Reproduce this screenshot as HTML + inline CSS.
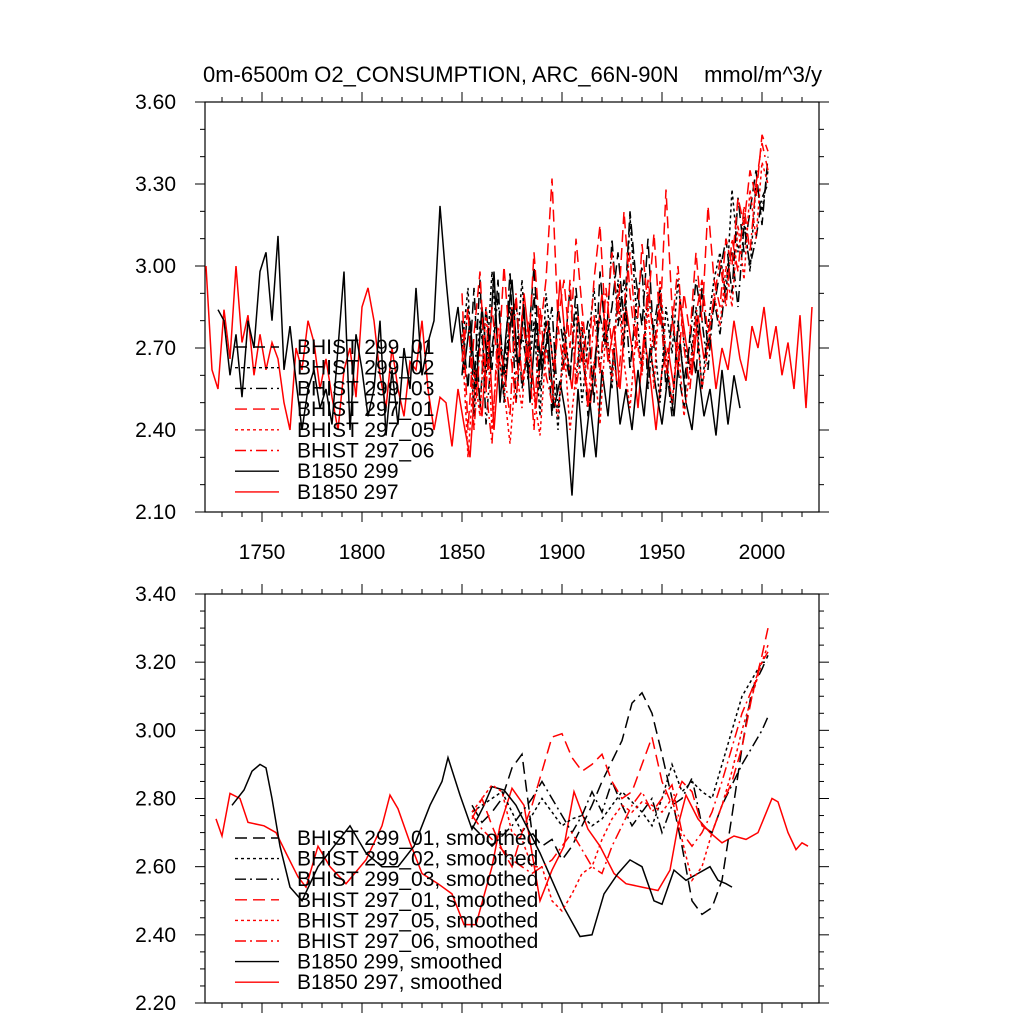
<!DOCTYPE html>
<html><head><meta charset="utf-8"><style>
body{margin:0;background:#fff}
svg text{font-family:"Liberation Sans",sans-serif;fill:#000}
</style></head><body>
<svg id="chart" width="1024" height="1024" viewBox="0 0 1024 1024" xmlns="http://www.w3.org/2000/svg">
<text x="203" y="82" font-size="22">0m-6500m O2_CONSUMPTION, ARC_66N-90N</text>
<text x="822" y="82" font-size="22" text-anchor="end">mmol/m^3/y</text>
<g id="topPanel"></g>
<g id="botPanel"></g>
</svg>
<script>
// ---- data ----
const xTickYears = [1750,1800,1850,1900,1950,2000];
const topYTicks = [2.10,2.40,2.70,3.00,3.30,3.60];
const botYTicks = [2.20,2.40,2.60,2.80,3.00,3.20,3.40];

const b297Start = 1722, b297Step = 3;
const b297 = [3.00,2.62,2.55,2.84,2.66,3.00,2.72,2.82,2.60,2.75,2.62,2.72,2.66,2.50,2.40,2.70,2.62,2.80,2.72,2.55,2.66,2.52,2.40,2.62,2.70,2.52,2.85,2.92,2.80,2.60,2.48,2.70,2.55,2.45,2.65,2.62,2.80,2.55,2.40,2.52,2.50,2.34,2.55,2.42,2.30,2.62,2.45,2.78,2.40,2.70,2.58,2.85,2.62,2.90,2.70,2.48,2.72,2.80,2.62,2.95,2.70,2.55,2.82,2.62,2.48,2.70,2.90,2.65,2.78,2.55,2.85,2.70,2.48,2.75,2.60,2.40,2.62,2.70,2.55,2.88,2.72,2.60,2.82,2.66,2.75,2.55,2.70,2.62,2.80,2.66,2.58,2.78,2.70,2.85,2.66,2.78,2.60,2.72,2.55,2.82,2.48,2.85];
const b299Start = 1728, b299Step = 3;
const b299 = [2.84,2.80,2.60,2.75,2.52,2.80,2.70,2.98,3.05,2.80,3.11,2.62,2.78,2.58,2.40,2.55,2.62,2.48,2.55,2.42,2.70,2.98,2.40,2.75,2.62,2.45,2.55,2.80,2.38,2.62,2.42,2.70,2.55,2.92,2.60,2.72,2.80,3.22,2.95,2.72,2.85,2.62,2.80,2.55,2.85,2.62,2.98,2.50,2.75,2.95,2.62,2.85,2.50,2.80,2.62,2.75,2.48,2.58,2.45,2.16,2.55,2.30,2.50,2.30,2.62,2.45,2.70,2.42,2.55,2.40,2.62,2.45,2.70,2.55,2.42,2.60,2.45,2.72,2.50,2.40,2.62,2.45,2.55,2.38,2.62,2.42,2.60,2.48];
const histStart = 1850, histStep = 3;
const h299_01 = [2.80,2.55,2.92,2.48,2.85,2.62,2.95,2.50,2.78,2.88,2.55,2.70,3.00,2.62,2.80,2.45,2.85,2.70,2.58,2.92,2.65,2.80,2.50,2.98,2.72,2.85,3.05,2.80,3.20,2.95,2.78,3.10,2.70,2.90,2.55,2.82,2.62,2.48,2.75,2.60,2.92,2.70,2.85,2.98,3.10,2.90,3.25,3.05,3.20,3.35,3.15,3.40];
const h299_02 = [2.70,2.92,2.45,2.80,2.60,2.98,2.70,2.52,2.85,2.65,2.95,2.58,2.80,2.45,2.90,2.68,2.40,2.78,2.60,2.85,2.50,2.72,2.92,2.62,2.80,2.55,2.95,2.70,3.18,2.85,2.62,2.90,2.75,2.50,2.85,2.68,2.95,2.72,2.62,2.85,2.55,2.78,2.95,3.05,2.88,3.28,3.05,3.18,2.98,3.30,3.20,3.35];
const h299_03 = [2.60,2.85,2.55,2.95,2.42,2.70,2.88,2.60,2.98,2.50,2.75,2.62,2.90,2.55,2.72,2.85,2.48,2.66,2.92,2.58,2.78,2.45,2.62,2.82,2.70,3.10,2.78,2.95,2.62,2.85,3.00,2.55,2.78,2.92,2.65,2.45,2.80,2.58,2.72,2.95,2.80,2.62,2.88,2.75,2.95,3.05,2.85,3.15,3.00,3.10,3.25,3.30];
const h297_01 = [2.90,2.40,2.75,2.98,2.55,2.85,2.62,3.00,2.70,2.50,2.82,2.65,3.05,2.75,2.95,3.32,2.80,2.95,2.70,3.10,2.85,2.62,2.95,3.15,2.75,3.05,2.82,3.20,2.90,2.70,3.08,2.85,3.12,2.78,3.28,2.85,2.62,2.90,2.75,3.05,2.80,3.22,2.95,2.85,3.10,3.00,3.25,3.15,3.35,3.25,3.48,3.42];
const h297_05 = [2.75,2.30,2.62,2.45,2.85,2.40,2.70,2.55,2.35,2.62,2.48,2.80,2.52,2.38,2.70,2.55,2.45,2.72,2.40,2.60,2.80,2.50,2.65,2.42,2.78,2.58,2.90,2.65,2.48,2.75,2.60,2.85,2.55,2.95,2.68,2.50,2.72,2.45,2.62,2.80,2.55,2.70,2.90,2.78,3.00,2.85,3.15,2.95,3.28,3.10,3.38,3.30];
const h297_06 = [2.65,2.85,2.40,2.70,2.55,2.35,2.78,2.62,2.45,2.90,2.58,2.72,2.40,2.85,2.60,2.50,2.78,2.62,2.95,2.55,2.70,2.48,2.82,2.60,2.92,2.70,2.55,2.85,3.05,2.75,2.62,2.95,2.70,2.85,2.60,2.78,3.00,2.70,2.55,2.82,2.95,2.75,2.88,3.02,2.85,3.10,2.98,3.22,3.05,3.30,3.45,3.35];

// smoothed (bottom)
const s297Years = [1727,1730,1734,1739,1743,1751,1757,1762,1768,1772,1778,1784,1792,1802,1810,1814,1818,1824,1830,1838,1845,1851,1857,1865,1869,1875,1881,1889,1895,1901,1906,1913,1919,1926,1932,1940,1948,1954,1958,1962,1968,1974,1980,1986,1992,1998,2005,2008,2013,2017,2020,2023];
const s297Vals = [2.74,2.69,2.815,2.80,2.73,2.72,2.70,2.64,2.57,2.54,2.66,2.60,2.55,2.62,2.72,2.81,2.77,2.67,2.58,2.55,2.52,2.43,2.43,2.60,2.72,2.83,2.78,2.50,2.59,2.66,2.82,2.71,2.66,2.58,2.55,2.54,2.53,2.59,2.72,2.81,2.74,2.70,2.67,2.69,2.68,2.70,2.80,2.79,2.70,2.65,2.67,2.66];
const s299Years = [1735,1741,1745,1749,1752,1755,1759,1764,1770,1778,1786,1794,1802,1810,1818,1826,1834,1840,1843,1849,1855,1861,1865,1871,1877,1883,1889,1895,1901,1909,1915,1921,1928,1934,1940,1946,1950,1956,1962,1968,1974,1978,1982,1985];
const s299Vals = [2.78,2.825,2.88,2.90,2.89,2.80,2.66,2.54,2.50,2.60,2.66,2.72,2.64,2.60,2.60,2.66,2.78,2.85,2.92,2.81,2.71,2.78,2.835,2.825,2.78,2.71,2.64,2.56,2.48,2.395,2.40,2.52,2.58,2.62,2.60,2.50,2.49,2.59,2.56,2.58,2.60,2.56,2.55,2.54];
const sHistYears = [1855,1860,1865,1870,1875,1880,1885,1890,1895,1900,1905,1910,1915,1920,1925,1930,1935,1940,1945,1950,1955,1960,1965,1970,1975,1980,1985,1990,1995,2000,2003];
const sh299_01 = [2.78,2.73,2.76,2.80,2.89,2.93,2.70,2.66,2.68,2.62,2.66,2.72,2.78,2.85,2.91,2.97,3.08,3.11,3.05,2.93,2.80,2.66,2.50,2.46,2.48,2.56,2.75,2.95,3.12,3.18,3.22];
const sh299_02 = [2.76,2.78,2.80,2.82,2.76,2.70,2.75,2.80,2.76,2.72,2.74,2.75,2.72,2.74,2.78,2.82,2.79,2.76,2.72,2.80,2.90,2.82,2.85,2.82,2.80,2.90,3.00,3.10,3.15,3.20,3.20];
const sh299_03 = [2.72,2.69,2.66,2.69,2.72,2.76,2.80,2.85,2.80,2.75,2.70,2.75,2.82,2.76,2.85,2.78,2.72,2.76,2.80,2.70,2.78,2.80,2.86,2.72,2.70,2.78,2.84,2.90,2.95,3.00,3.04];
const sh297_01 = [2.74,2.80,2.72,2.65,2.60,2.70,2.78,2.88,2.98,2.99,2.92,2.88,2.90,2.93,2.85,2.80,2.82,2.90,2.98,2.85,2.78,2.85,2.82,2.72,2.70,2.78,2.85,2.95,3.10,3.22,3.30];
const sh297_05 = [2.76,2.80,2.84,2.82,2.70,2.68,2.60,2.60,2.50,2.47,2.52,2.58,2.60,2.68,2.74,2.78,2.76,2.79,2.78,2.76,2.80,2.68,2.56,2.60,2.70,2.78,2.88,3.00,3.10,3.20,3.25];
const sh297_06 = [2.75,2.71,2.68,2.65,2.62,2.60,2.58,2.60,2.62,2.66,2.70,2.65,2.60,2.58,2.66,2.72,2.78,2.82,2.76,2.80,2.84,2.70,2.66,2.70,2.76,2.85,2.95,3.05,3.12,3.20,3.23];

const legendLabels = ["BHIST 299_01","BHIST 299_02","BHIST 299_03","BHIST 297_01","BHIST 297_05","BHIST 297_06","B1850 299","B1850 297"];

// ---- drawing ----
const NS = "http://www.w3.org/2000/svg";
const X0 = 205, X1 = 819, YR0 = 1721.5, YR1 = 2028.5;
function xs(yr){ return X0 + (yr - YR0) / (YR1 - YR0) * (X1 - X0); }
function mkY(t, b, vmin, vmax){ return v => b - (v - vmin) / (vmax - vmin) * (b - t); }
const yTop = mkY(102, 512, 2.10, 3.60);
const yBot = mkY(594, 1003, 2.20, 3.40);
function el(tag, attrs, parent){ const e = document.createElementNS(NS, tag); for (const k in attrs) e.setAttribute(k, attrs[k]); parent.appendChild(e); return e; }

const styles = {
  dash:    {stroke:"#000", da:"12,6"},
  dot:     {stroke:"#000", da:"3,3"},
  dashdot: {stroke:"#000", da:"11,4,2,4"},
  rdash:   {stroke:"#f00", da:"12,6"},
  rdot:    {stroke:"#f00", da:"3,3"},
  rdashdot:{stroke:"#f00", da:"11,4,2,4"},
  solid:   {stroke:"#000", da:"none"},
  rsolid:  {stroke:"#f00", da:"none"}
};
const legendStyles = ["dash","dot","dashdot","rdash","rdot","rdashdot","solid","rsolid"];

function line(parent, years, vals, yfn, st, name){
  const pts = vals.map((v,i) => xs(years[i]).toFixed(1) + "," + yfn(v).toFixed(1)).join(" ");
  const p = el("polyline", {points: pts, fill:"none", stroke: styles[st].stroke, "stroke-width":"1.5", "stroke-dasharray": styles[st].da}, parent);
  
  
}
function stepYears(start, step, n){ const a=[]; for(let i=0;i<n;i++) a.push(start+i*step); return a; }

function axes(parent, t, b, yfn, yticks, minorStep, showX){
  const fr = el("rect", {x:X0, y:t, width:X1-X0, height:b-t, fill:"none", stroke:"#000", "stroke-width":"1.2"}, parent);
  
  
  for (let yr = 1730; yr <= 2020; yr += 10){
    const x = xs(yr), L = (yr % 50 === 0) ? 10 : 5;
    el("line", {x1:x, x2:x, y1:b, y2:b+L, stroke:"#000"}, parent);
    el("line", {x1:x, x2:x, y1:t, y2:t-L, stroke:"#000"}, parent);
  }
  const vmin = yticks[0], vmax = yticks[yticks.length-1];
  for (let v = vmin; v <= vmax + 1e-6; v += minorStep){
    const y = yfn(v);
    const major = yticks.some(tk => Math.abs(tk - v) < 1e-6);
    const L = major ? 10 : 5;
    el("line", {x1:X0, x2:X0-L, y1:y, y2:y, stroke:"#000"}, parent);
    el("line", {x1:X1, x2:X1+L, y1:y, y2:y, stroke:"#000"}, parent);
  }
  yticks.forEach(tk => {
    const tx = el("text", {x:176, y:yfn(tk)+7, "font-size":"21", "text-anchor":"end"}, parent);
    tx.textContent = tk.toFixed(2);
    
    
  });
  if (showX) xTickYears.forEach(yr => {
    const tx = el("text", {x:xs(yr), y:559, "font-size":"21", "text-anchor":"middle"}, parent);
    tx.textContent = yr;
    
    
  });
}

function legend(parent, y0, dy, suffix){
  legendLabels.forEach((lab, i) => {
    const g = el("g", {}, parent);
    
    
    const y = y0 + i*dy;
    const st = styles[legendStyles[i]];
    el("line", {x1:235, x2:279, y1:y, y2:y, stroke:st.stroke, "stroke-width":"1.4", "stroke-dasharray":st.da}, g);
    const tx = el("text", {x:297, y:y+7, "font-size":"21"}, g);
    tx.textContent = lab + suffix;
  });
}

const topG = document.getElementById("topPanel");
const botG = document.getElementById("botPanel");

axes(topG, 102, 512, yTop, topYTicks, 0.1, true);
const hy = stepYears(histStart, histStep, 52);
line(topG, stepYears(b297Start, b297Step, b297.length), b297, yTop, "rsolid", "b1850-297-line");
line(topG, stepYears(b299Start, b299Step, b299.length), b299, yTop, "solid", "b1850-299-line");
line(topG, hy, h299_01, yTop, "dash", "bhist-299-01-line");
line(topG, hy, h299_02, yTop, "dot", "bhist-299-02-line");
line(topG, hy, h299_03, yTop, "dashdot", "bhist-299-03-line");
line(topG, hy, h297_01, yTop, "rdash", "bhist-297-01-line");
line(topG, hy, h297_05, yTop, "rdot", "bhist-297-05-line");
line(topG, hy, h297_06, yTop, "rdashdot", "bhist-297-06-line");
legend(topG, 347, 20.7, "");

axes(botG, 594, 1003, yBot, botYTicks, 0.05, false);
line(botG, s297Years, s297Vals, yBot, "rsolid", "b1850-297-smoothed-line");
line(botG, s299Years, s299Vals, yBot, "solid", "b1850-299-smoothed-line");
line(botG, sHistYears, sh299_01, yBot, "dash", "bhist-299-01-smoothed-line");
line(botG, sHistYears, sh299_02, yBot, "dot", "bhist-299-02-smoothed-line");
line(botG, sHistYears, sh299_03, yBot, "dashdot", "bhist-299-03-smoothed-line");
line(botG, sHistYears, sh297_01, yBot, "rdash", "bhist-297-01-smoothed-line");
line(botG, sHistYears, sh297_05, yBot, "rdot", "bhist-297-05-smoothed-line");
line(botG, sHistYears, sh297_06, yBot, "rdashdot", "bhist-297-06-smoothed-line");
legend(botG, 838, 20.6, ", smoothed");
</script>
</body></html>
